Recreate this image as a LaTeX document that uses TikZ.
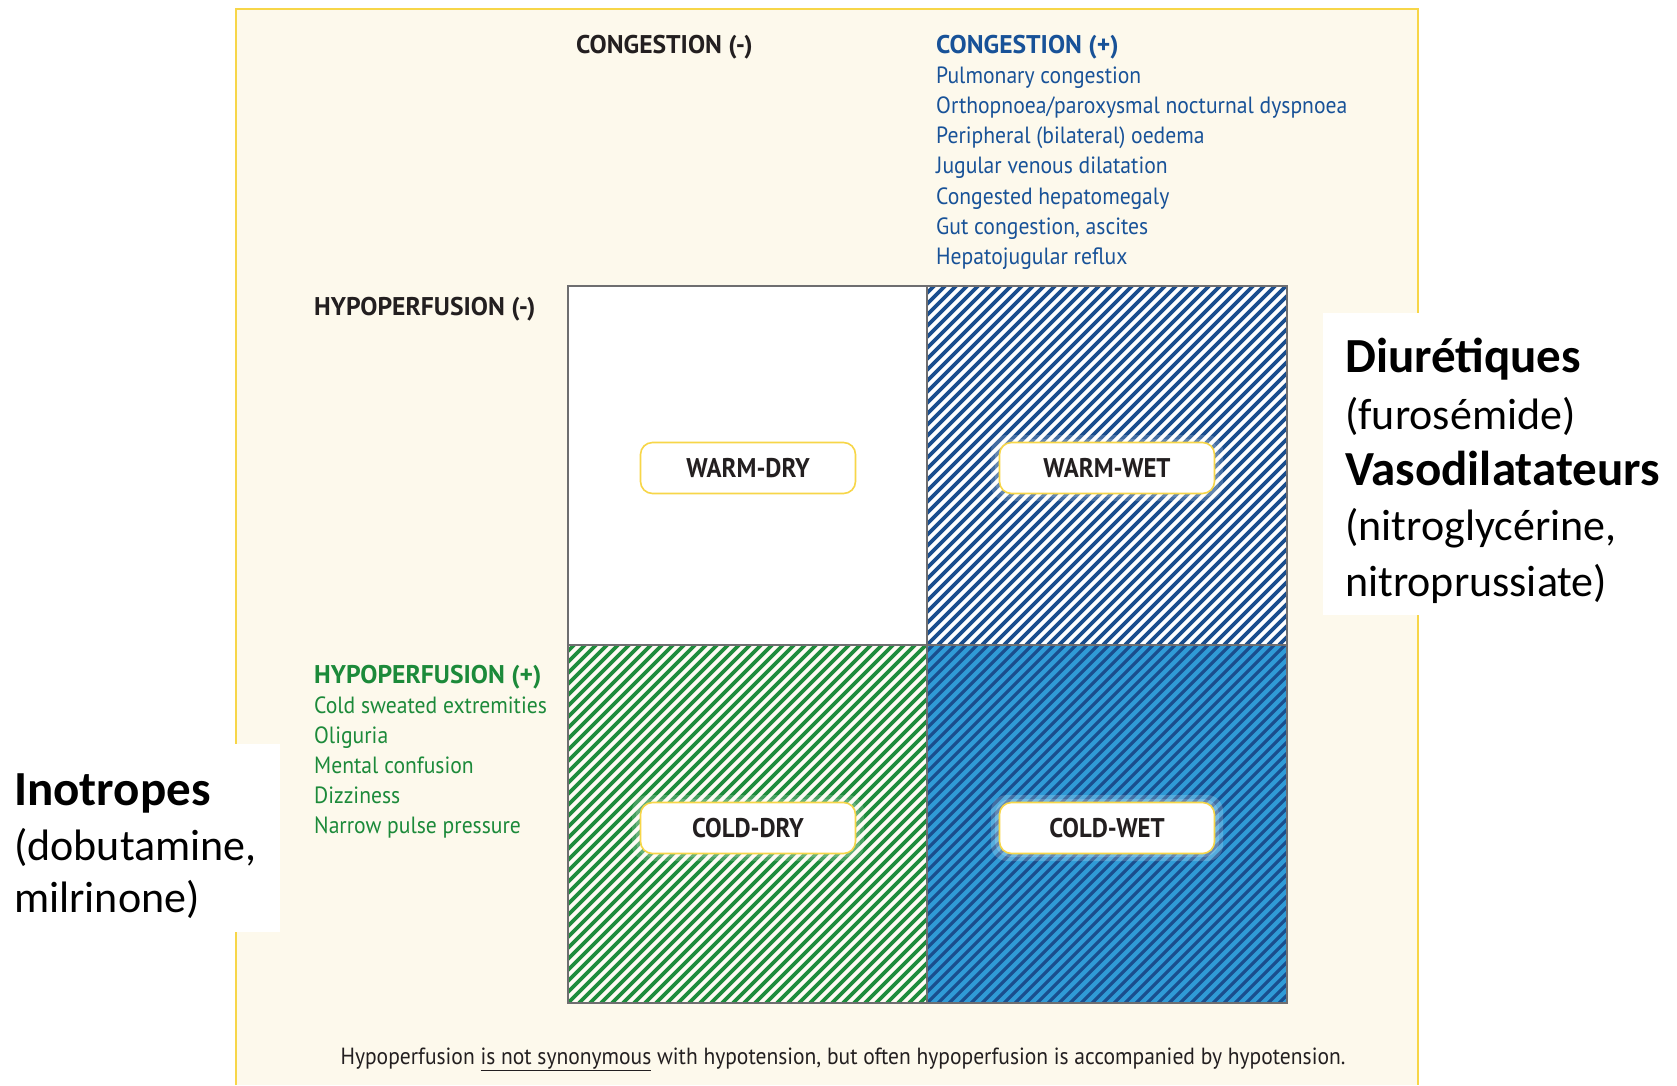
\documentclass[tikz,border=0pt]{standalone}
\usepackage{fontspec}
\setmainfont{Carlito}
\newfontfamily\gill[FakeStretch=0.92]{PT Sans}
\newfontfamily\gillh{PT Sans}
\definecolor{cream}{RGB}{253,249,236}
\definecolor{pyellow}{RGB}{247,214,72}
\definecolor{tblue}{RGB}{24,82,152}
\definecolor{sblue}{RGB}{26,78,142}
\definecolor{lblue}{RGB}{48,155,215}
\definecolor{tgreen}{RGB}{28,138,58}
\definecolor{sgreen}{RGB}{30,140,60}
\definecolor{gridgray}{RGB}{110,110,112}
\definecolor{tdark}{RGB}{35,31,32}
\tikzset{
  blueitem/.style={anchor=base west, inner sep=0pt, text=tblue, font=\gill\fontsize{23.5}{27}\selectfont},
  greenitem/.style={anchor=base west, inner sep=0pt, text=tgreen, font=\gill\fontsize{23.5}{27}\selectfont},
  headtext/.style={anchor=base west, inner sep=0pt, font=\gillh\bfseries\fontsize{25.6}{29}\selectfont},
  quadlabel/.style={draw=pyellow, line width=1.6pt, fill=white, rounded corners=12pt,
    minimum width=215pt, minimum height=51pt, inner sep=0pt, text=tdark,
    font=\gill\bfseries\fontsize{27}{27}\selectfont},
  halo/.style={fill=white, rounded corners=16pt, opacity=0.18},
  drugbold/.style={anchor=base west, inner sep=0pt, font=\bfseries\fontsize{49}{56}\selectfont},
  drugreg/.style={anchor=base west, inner sep=0pt, font=\fontsize{44}{56}\selectfont},
  gridline/.style={draw=gridgray, line width=1.5pt},
}
\begin{document}
\begin{tikzpicture}[x=1pt,y=-1pt]
\useasboundingbox (0,0) rectangle (1677,1085);
\fill[white] (0,0) rectangle (1677,1085);
% panel
\fill[cream] (236,9) rectangle (1418,1085);
\draw[pyellow, line width=2pt] (236,1085) -- (236,9) -- (1418,9) -- (1418,1085);
% quadrants
\fill[white] (568,286) rectangle (927,645);
\begin{scope}
  \clip (927,286) rectangle (1287,645);
  \fill[white] (927,286) rectangle (1287,645);
  \foreach \k in {-34,...,34} \draw[sblue, line width=3.6pt] (927+\k*11,645) -- ++(370,-370);
\end{scope}
\begin{scope}
  \clip (568,645) rectangle (927,1003);
  \fill[cream!60!white] (568,645) rectangle (927,1003);
  \foreach \k in {-34,...,34} \draw[sgreen, line width=3.6pt] (568+\k*11,1003) -- ++(370,-370);
\end{scope}
\begin{scope}
  \clip (927,645) rectangle (1287,1003);
  \fill[lblue] (927,645) rectangle (1287,1003);
  \foreach \k in {-34,...,34} \draw[sblue, line width=3.2pt] (927+\k*11,1003) -- ++(370,-370);
\end{scope}
\draw[gridline] (568,286) rectangle (1287,1003);
\draw[gridline] (927,286) -- (927,1003);
\draw[gridline] (568,645) -- (1287,645);
% halos
\foreach \cx/\cy in {748/468, 1107/468, 748/828, 1107/828} {
  \fill[halo] (\cx-116,\cy-33) rectangle (\cx+116,\cy+33);
  \fill[halo] (\cx-112,\cy-29) rectangle (\cx+112,\cy+29);
}
\node[quadlabel] (wd) at (748,468) {WARM-DRY};
\node[quadlabel] (ww) at (1107,468) {WARM-WET};
\node[quadlabel] (cd) at (748,828) {COLD-DRY};
\node[quadlabel] (cw) at (1107,828) {COLD-WET};
% headings
\node[headtext, text=tdark] (congm) at (576,53) {CONGESTION (-)};
\node[headtext, text=tblue] (congp) at (936,53) {CONGESTION (+)};
\node[headtext, text=tdark] (hypom) at (314,315) {HYPOPERFUSION (-)};
\node[headtext, text=tgreen] (hypop) at (314,683) {HYPOPERFUSION (+)};
% lists
\foreach [count=\i] \t in {Pulmonary congestion, Orthopnoea/paroxysmal nocturnal dyspnoea, Peripheral (bilateral) oedema, Jugular venous dilatation, Congested hepatomegaly, {Gut congestion, ascites}, Hepatojugular reflux}
  \node[blueitem] (b\i) at (936,{83+30.3*(\i-1)}) {\t};
\foreach [count=\i] \t in {Cold sweated extremities, Oliguria, Mental confusion, Dizziness, Narrow pulse pressure}
  \node[greenitem] (g\i) at (314,{713+30*(\i-1)}) {\t};
% footnote
\node[anchor=base, inner sep=0pt, text=tdark, font=\gill\fontsize{23.4}{27}\selectfont] (foot) at (843,1064)
  {Hypoperfusion \underline{is not synonymous} with hypotension, but often hypoperfusion is accompanied by hypotension.};
% drug boxes
\fill[white] (0,744) rectangle (280,932);
\fill[white] (1323,313) rectangle (1677,615);
\node[drugbold] (ino) at (14,805) {Inotropes};
\node[drugreg] (ino2) at (14,860) {(dobutamine,};
\node[drugreg] (ino3) at (14,912) {milrinone)};
\node[drugbold] (diu) at (1345,372) {Diurétiques};
\node[drugreg] (diu2) at (1345,429) {(furosémide)};
\node[drugbold] (vas) at (1345,485) {Vasodilatateurs};
\node[drugreg] (vas2) at (1345,540) {(nitroglycérine,};
\node[drugreg] (vas3) at (1345,596) {nitroprussiate)};
\end{tikzpicture}
\end{document}
